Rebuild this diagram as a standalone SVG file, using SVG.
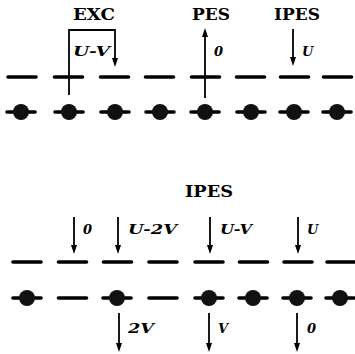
<svg xmlns="http://www.w3.org/2000/svg" xmlns:xlink="http://www.w3.org/1999/xlink" width="355" height="354" viewBox="0 0 355 354">
<style>
.head{font-family:"DejaVu Serif",serif;font-weight:bold;font-size:17px;fill:#000;text-anchor:middle}
.lab{font-family:"DejaVu Serif",serif;font-weight:bold;font-style:italic;font-size:13px;fill:#000}
.dash{stroke:#000;stroke-width:3.6;stroke-linecap:round}
.conn{stroke:#000;stroke-width:1.8;fill:none}
</style>
<defs>
<marker id="ah" markerUnits="userSpaceOnUse" markerWidth="10" markerHeight="8" refX="4" refY="3.5" orient="auto">
<path d="M0,0.5 L9,3.5 L0,6.5 Z" fill="#000"/>
</marker>
<g id="dash"><line class="dash" x1="-14" y1="0" x2="14" y2="0"/></g>
<g id="atom"><line class="dash" x1="-14" y1="0" x2="14" y2="0"/><circle r="8" fill="#111"/></g>
</defs>

<g id="top-upper-row">
<use id="t-u1" xlink:href="#dash" x="22" y="77"/>
<use id="t-u2" xlink:href="#dash" x="68.5" y="77"/>
<use id="t-u3" xlink:href="#dash" x="114.5" y="77"/>
<use id="t-u4" xlink:href="#dash" x="159.5" y="77"/>
<use id="t-u5" xlink:href="#dash" x="205.5" y="77"/>
<use id="t-u6" xlink:href="#dash" x="250.5" y="77"/>
<use id="t-u7" xlink:href="#dash" x="294.5" y="77"/>
<use id="t-u8" xlink:href="#dash" x="337.5" y="77"/>
</g>
<g id="top-lower-row">
<use id="t-l1" xlink:href="#atom" x="21" y="112"/>
<use id="t-l2" xlink:href="#atom" x="69" y="112"/>
<use id="t-l3" xlink:href="#atom" x="115" y="112"/>
<use id="t-l4" xlink:href="#atom" x="160" y="112"/>
<use id="t-l5" xlink:href="#atom" x="205" y="112"/>
<use id="t-l6" xlink:href="#atom" x="251" y="112"/>
<use id="t-l7" xlink:href="#atom" x="294" y="112"/>
<use id="t-l8" xlink:href="#atom" x="337" y="112"/>
</g>

<g id="bot-upper-row">
<use id="b-u1" xlink:href="#dash" x="27" y="262"/>
<use id="b-u2" xlink:href="#dash" x="72.5" y="262"/>
<use id="b-u3" xlink:href="#dash" x="117.5" y="262"/>
<use id="b-u4" xlink:href="#dash" x="163" y="262"/>
<use id="b-u5" xlink:href="#dash" x="209" y="262"/>
<use id="b-u6" xlink:href="#dash" x="253.5" y="262"/>
<use id="b-u7" xlink:href="#dash" x="298" y="262"/>
<use id="b-u8" xlink:href="#dash" x="341" y="262"/>
</g>
<g id="bot-lower-row">
<use id="b-l1" xlink:href="#atom" x="27" y="298"/>
<use id="b-l2" xlink:href="#dash" x="72.5" y="298"/>
<use id="b-l3" xlink:href="#atom" x="117" y="298"/>
<use id="b-l4" xlink:href="#dash" x="163" y="298"/>
<use id="b-l5" xlink:href="#atom" x="209" y="298"/>
<use id="b-l6" xlink:href="#atom" x="253" y="298"/>
<use id="b-l7" xlink:href="#atom" x="297" y="298"/>
<use id="b-l8" xlink:href="#atom" x="340" y="298"/>
</g>

<g id="connectors">
<path class="conn" d="M69,95 V30 H115 V62" marker-end="url(#ah)"/>
<path class="conn" d="M205,98 V33" marker-end="url(#ah)"/>
<path class="conn" d="M293,29 V61" marker-end="url(#ah)"/>
<path class="conn" d="M74,217 V249" marker-end="url(#ah)"/>
<path class="conn" d="M118,217 V249" marker-end="url(#ah)"/>
<path class="conn" d="M210,217 V249" marker-end="url(#ah)"/>
<path class="conn" d="M298,217 V249" marker-end="url(#ah)"/>
<path class="conn" d="M119,313 V347" marker-end="url(#ah)"/>
<path class="conn" d="M209,313 V347" marker-end="url(#ah)"/>
<path class="conn" d="M297,313 V347" marker-end="url(#ah)"/>
</g>

<g id="headings">
<text class="head" x="94" y="20" textLength="42" lengthAdjust="spacingAndGlyphs">EXC</text>
<text class="head" x="211" y="20" textLength="38" lengthAdjust="spacingAndGlyphs">PES</text>
<text class="head" x="297" y="20" textLength="46" lengthAdjust="spacingAndGlyphs">IPES</text>
<text class="head" x="209" y="197" textLength="48" lengthAdjust="spacingAndGlyphs">IPES</text>
</g>

<g id="labels">
<text class="lab" x="73" y="56" textLength="37" lengthAdjust="spacingAndGlyphs">U-V</text>
<text class="lab" x="214" y="56">0</text>
<text class="lab" x="302" y="56">U</text>
<text class="lab" x="83" y="234">0</text>
<text class="lab" x="128" y="234" textLength="49" lengthAdjust="spacingAndGlyphs">U-2V</text>
<text class="lab" x="220" y="234" textLength="32" lengthAdjust="spacingAndGlyphs">U-V</text>
<text class="lab" x="307" y="234">U</text>
<text class="lab" x="128" y="333" textLength="26" lengthAdjust="spacingAndGlyphs">2V</text>
<text class="lab" x="218" y="333">V</text>
<text class="lab" x="307" y="333">0</text>
</g>
</svg>
